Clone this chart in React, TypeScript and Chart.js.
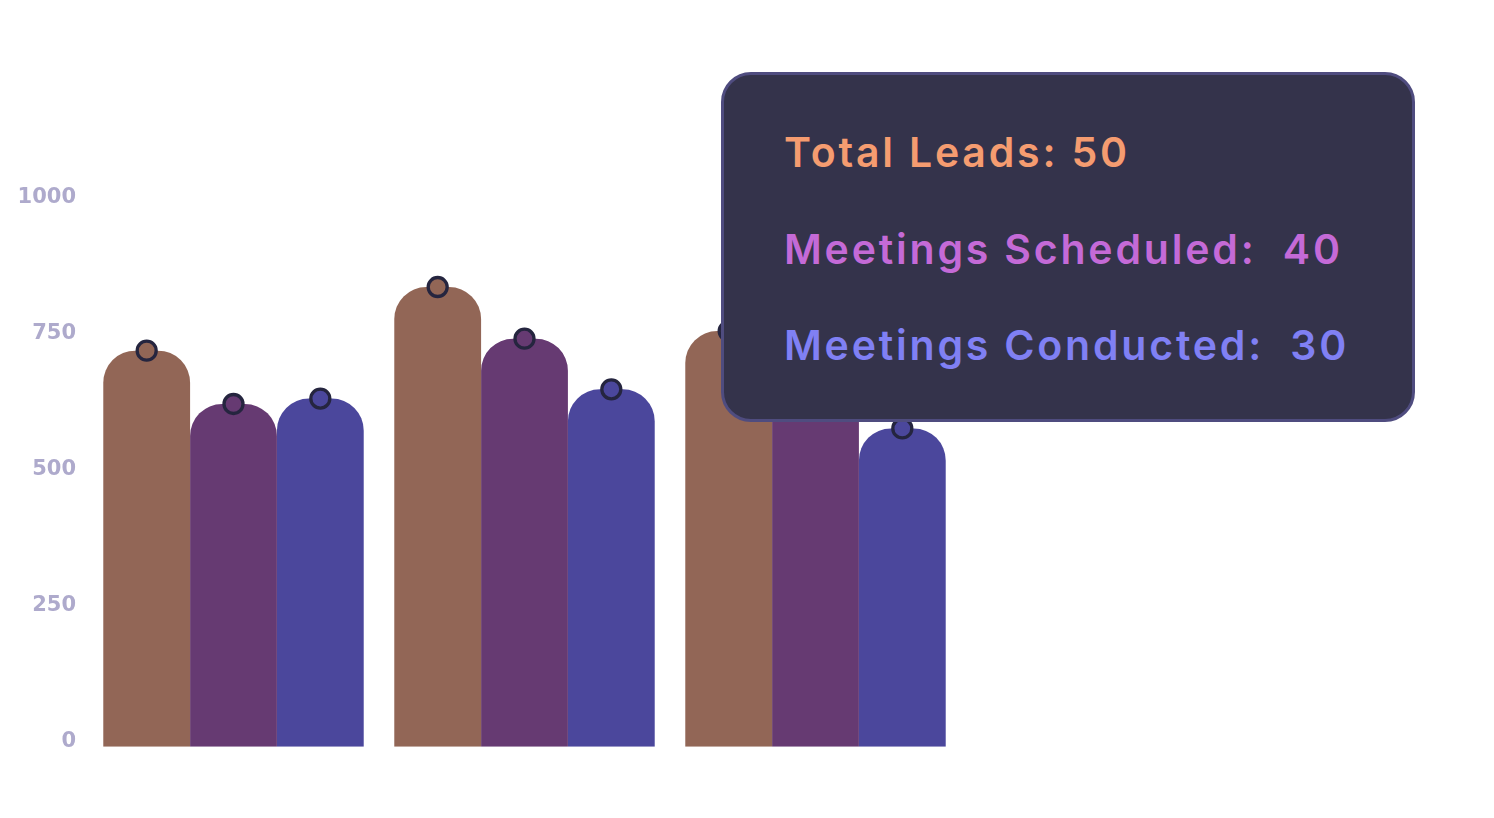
import React, { useEffect, useRef } from "react";
import { Chart, registerables } from "chart.js";

Chart.register(...registerables);

const categories = ["Q1", "Q2", "Q3"];
const totalLeads = [728, 845, 764];
const meetingsScheduled = [630, 750, 700];
const meetingsConducted = [640, 657, 585];
const yTickValues = [0, 250, 500, 750, 1000];

const seriesNames = ["Total Leads", "Meetings Scheduled", "Meetings Conducted"];
const barColors = ["#926656", "#663a72", "#4b479c"];

const tooltipLines = [
  { text: "Total Leads: 50", color: "#f59c70" },
  { text: "Meetings Scheduled:\u00a0 40", color: "#c46ad7" },
  { text: "Meetings Conducted:\u00a0 30", color: "#8080f4" },
];

const pointPlugin = {
  id: "barTopPoints",
  afterDatasetsDraw(chart: any) {
    const ctx = chart.ctx;
    ctx.save();
    chart.data.datasets.forEach((ds: any, i: number) => {
      const meta = chart.getDatasetMeta(i);
      meta.data.forEach((bar: any) => {
        ctx.beginPath();
        ctx.arc(bar.x, bar.y, 9.5, 0, Math.PI * 2);
        ctx.fillStyle = ds.backgroundColor;
        ctx.fill();
        ctx.lineWidth = 3.3;
        ctx.strokeStyle = "#25253f";
        ctx.stroke();
      });
    });
    ctx.restore();
  },
};

export default function App() {
  const canvasRef = useRef<HTMLCanvasElement | null>(null);

  useEffect(() => {
    if (!canvasRef.current) return;
    const values = [totalLeads, meetingsScheduled, meetingsConducted];
    const chart = new Chart(canvasRef.current, {
      type: "bar",
      data: {
        labels: categories,
        datasets: values.map((v, i) => ({
          label: seriesNames[i],
          data: v,
          backgroundColor: barColors[i],
          borderRadius: 32,
          borderSkipped: "start",
          categoryPercentage: 0.895,
          barPercentage: 1,
        })),
      },
      options: {
        animation: false,
        responsive: true,
        maintainAspectRatio: false,
        layout: { padding: { top: 194.7, bottom: 63.3, right: 525, left: 0 } },
        plugins: { legend: { display: false }, tooltip: { enabled: false } },
        scales: {
          x: { display: false },
          y: {
            min: 0,
            max: 1000,
            afterFit: (scale: any) => {
              scale.width = 80;
            },
            afterBuildTicks: (scale: any) => {
              scale.ticks = yTickValues.map((v) => ({ value: v }));
            },
            grid: { display: false },
            border: { display: false },
            ticks: {
              padding: 4,
              labelOffset: -5,
              color: "#aeaacc",
              font: { family: "DejaVu Sans", size: 21, weight: "bold" },
              callback: (v: any) => String(v),
            },
          },
        },
      },
      plugins: [pointPlugin],
    });
    return () => chart.destroy();
  }, []);

  return (
    <div style={{ position: "relative", width: "100%", height: 802 }}>
      <canvas ref={canvasRef} />
      <div
        style={{
          position: "absolute",
          left: 713,
          top: 64,
          width: 694,
          height: 350,
          boxSizing: "border-box",
          border: "3px solid #4f4c7f",
          borderRadius: 30,
          background: "#34334b",
          paddingTop: 29,
          paddingLeft: 60,
          fontFamily: "Inter, 'Open Sans', sans-serif",
          fontWeight: 600,
          fontSize: 41,
          letterSpacing: "2.8px",
        }}
      >
        {tooltipLines.map((l) => (
          <div key={l.text} style={{ color: l.color, lineHeight: "96.5px", whiteSpace: "pre" }}>
            {l.text}
          </div>
        ))}
      </div>
    </div>
  );
}
